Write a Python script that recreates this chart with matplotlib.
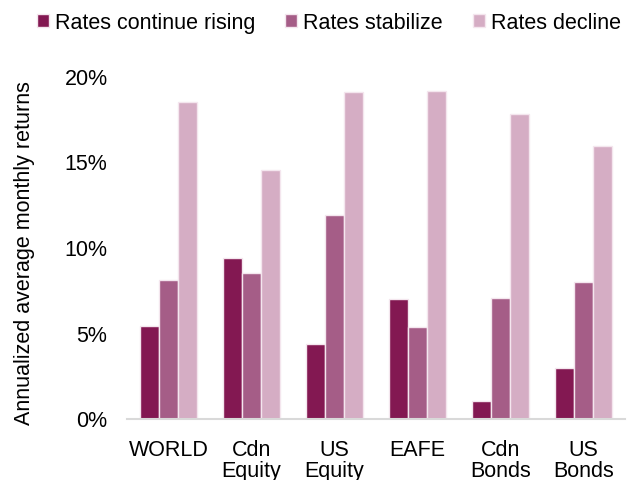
import matplotlib
matplotlib.use("Agg")
import matplotlib.pyplot as plt
import numpy as np
from matplotlib.ticker import FuncFormatter

plt.rcParams['font.family'] = ['Liberation Sans', 'DejaVu Sans']

categories = ["WORLD", "Cdn\nEquity", "US\nEquity", "EAFE", "Cdn\nBonds", "US\nBonds"]
series_names = ["Rates continue rising", "Rates stabilize", "Rates decline"]
rising = [5.46, 9.41, 4.39, 7.02, 1.09, 2.98]
stabilize = [8.13, 8.52, 11.92, 5.37, 7.08, 8.03]
decline = [18.53, 14.55, 19.08, 19.17, 17.80, 15.96]
colors = ["#831852", "#A55D87", "#D5ADC4"]

FS = 15.5

fig = plt.figure(figsize=(6.34, 4.8), dpi=100)
ax = fig.add_axes([0.2003, 0.1265, 0.7855, 0.7141])

x = np.arange(len(categories))
w = 0.225
for i, (vals, name, c) in enumerate(zip([rising, stabilize, decline], series_names, colors)):
    ax.bar(x + (i - 1) * w, vals, width=w, color=c, edgecolor="#F4E6EE",
           linewidth=1.0, label=name, zorder=2)

ax.set_xlim(-0.5, len(categories) - 0.5)
ax.set_ylim(0, 20)
ax.set_yticks([0, 5, 10, 15, 20])
ax.yaxis.set_major_formatter(FuncFormatter(lambda v, p: f"{v:.0f}%"))
ax.set_xticks(x)
ax.set_xticklabels(categories, fontsize=FS, linespacing=1.0, va="top")
ax.tick_params(axis="both", length=0)
ax.tick_params(axis="y", labelsize=FS, pad=14)
ax.tick_params(axis="x", pad=15)

for s in ["top", "right", "left"]:
    ax.spines[s].set_visible(False)
ax.spines["bottom"].set_color("#D9D9D9")
ax.spines["bottom"].set_linewidth(1.5)

fig.text(0.038, 0.472, "Annualized average monthly returns", rotation=90,
         ha="center", va="center", fontsize=FS)

fig.legend(loc="center", bbox_to_anchor=(0.519, 0.952), ncol=3, frameon=False,
           fontsize=FS, handlelength=0.55, handleheight=0.55, handletextpad=0.28,
           columnspacing=1.4, borderaxespad=0, borderpad=0)

fig.savefig("out.png", dpi=100)
